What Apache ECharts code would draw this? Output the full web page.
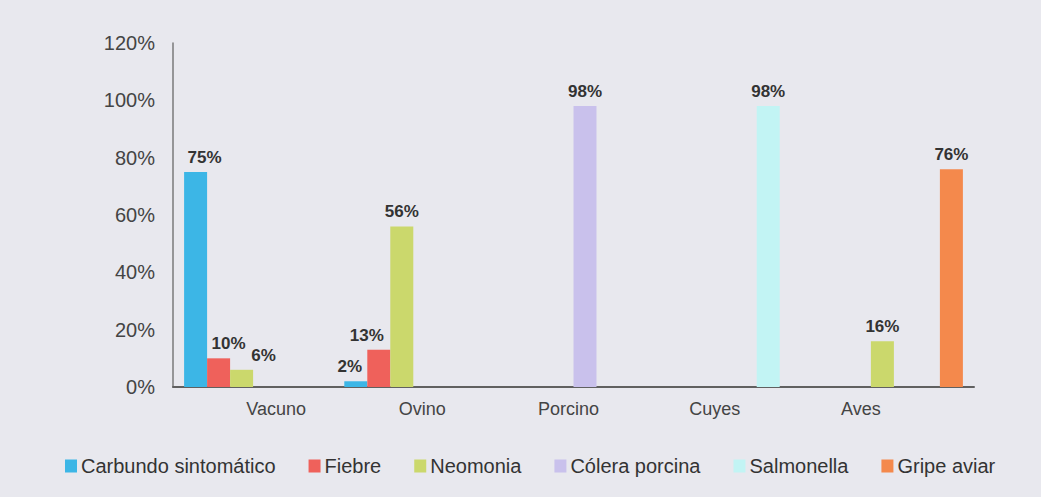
<!DOCTYPE html>
<html>
<head>
<meta charset="utf-8">
<script src="https://cdn.jsdelivr.net/npm/echarts@6/dist/echarts.min.js"></script>
<style>
  html, body { margin: 0; padding: 0; background: #e8e8ee; }
  #chart { width: 1041px; height: 497px; }
</style>
</head>
<body>
<div id="chart"></div>
<script>
const categories = ["Vacuno", "Ovino", "Porcino", "Cuyes", "Aves"];
const seriesNames = ["Carbundo sintomático", "Fiebre", "Neomonia", "Cólera porcina", "Salmonella", "Gripe aviar"];
const carbundo = [75, 2, null, null, null];
const fiebre = [10, 13, null, null, null];
const neomonia = [6, 56, null, null, 16];
const colera = [null, null, 98, null, null];
const salmonella = [null, null, null, 98, null];
const gripe = [null, null, null, null, 76];
const colors = ["#3cb6e6", "#ef615b", "#cbd86c", "#c9c1ec", "#c2f4f4", "#f4894c"];

(() => {
  const chart = echarts.init(document.getElementById("chart"), null, { renderer: "svg" });
  const values = [carbundo, fiebre, neomonia, colera, salmonella, gripe];
  const font = "Liberation Sans, Arial";
  // the crowded labels are nudged sideways like in the original
  const nudge = { "0-0": 9, "1-0": 10, "2-0": 22, "0-1": -6, "1-1": -12 };
  chart.setOption({
    animation: false,
    backgroundColor: "#e8e8ee",
    color: colors,
    // grid 0 holds the bars, grid 1 only carries the category labels
    // (in the original they sit a bit off the bar groups)
    grid: [
      { left: 173, right: 67, top: 43, bottom: 110 },
      { left: 203, right: 107, top: 43, bottom: 110 }
    ],
    legend: {
      top: 451,
      left: 60,
      itemWidth: 12,
      itemHeight: 13,
      itemGap: 33,
      icon: "rect",
      textStyle: { fontFamily: font, fontSize: 20, color: "#333", padding: [0, 0, 0, -1] },
      data: seriesNames
    },
    xAxis: [
      {
        type: "category",
        gridIndex: 0,
        data: categories,
        axisLine: { lineStyle: { color: "#606060", width: 2 } },
        axisTick: { show: false },
        axisLabel: { show: false }
      },
      {
        type: "category",
        gridIndex: 1,
        data: categories,
        axisLine: { show: false },
        axisTick: { show: false },
        axisLabel: { color: "#444", fontSize: 18, fontFamily: font, margin: 13 }
      }
    ],
    yAxis: [
      {
        type: "value",
        gridIndex: 0,
        min: 0,
        max: 120,
        interval: 20,
        splitLine: { show: false },
        axisLine: { show: true, lineStyle: { color: "#7a7a7a", width: 1.5 } },
        axisTick: { show: false },
        axisLabel: { formatter: "{value}%", color: "#444", fontSize: 20, fontFamily: font, margin: 18 }
      },
      {
        type: "value",
        gridIndex: 1,
        min: 0,
        max: 120,
        interval: 20,
        show: false
      }
    ],
    series: seriesNames.map((name, i) => ({
      name,
      type: "bar",
      xAxisIndex: 0,
      yAxisIndex: 0,
      data: values[i],
      barWidth: 23,
      barGap: "0%",
      label: {
        show: true,
        position: "top",
        distance: 6,
        formatter: p => p.value == null ? "" : p.value + "%",
        fontWeight: "bold",
        fontSize: 17,
        color: "#333",
        fontFamily: font
      },
      labelLayout: p => ({ dx: nudge[i + "-" + p.dataIndex] || 0 })
    }))
  });
})();
</script>
</body>
</html>
